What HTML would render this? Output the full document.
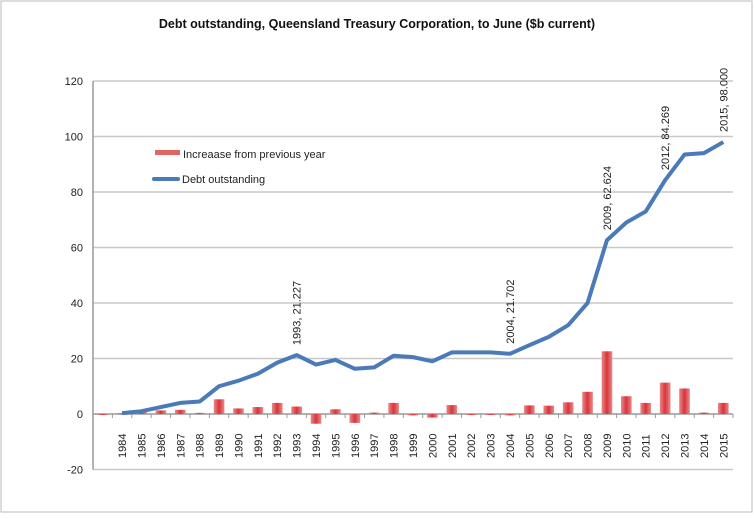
<!DOCTYPE html>
<html><head><meta charset="utf-8"><style>
body{margin:0;background:#fff;font-family:"Liberation Sans",sans-serif}
</style></head><body>
<svg id="chart" width="754" height="514" xmlns="http://www.w3.org/2000/svg" font-family="Liberation Sans, sans-serif">
<defs><linearGradient id="bg" x1="0" x2="1"><stop offset="0" stop-color="#e88a8a"/><stop offset="0.5" stop-color="#d9343a"/><stop offset="1" stop-color="#e88a8a"/></linearGradient></defs>
<rect x="1" y="1" width="751" height="511" fill="#fff" stroke="#bbb"/>
<text x="377" y="28" text-anchor="middle" font-size="12.5" font-weight="bold" fill="#111">Debt outstanding, Queensland Treasury Corporation, to June ($b current)</text>
<g id="grid"></g><g id="bars"></g><g id="line"></g><g id="labels"></g>
<g>
<rect x="155" y="150" width="25" height="5" fill="#e06666"/>
<text x="183" y="158" font-size="11" fill="#222">Increaase from previous year</text>
<rect x="152" y="177" width="28" height="4" rx="2" fill="#4a7ab8"/>
<text x="182" y="183" font-size="11" fill="#222">Debt outstanding</text>
</g>
</svg>
<script>
const years=["","1984","1985","1986","1987","1988","1989","1990","1991","1992","1993","1994","1995","1996","1997","1998","1999","2000","2001","2002","2003","2004","2005","2006","2007","2008","2009","2010","2011","2012","2013","2014","2015"];
const debt=[null,0.3,1,2.5,4,4.5,10,12,14.5,18.5,21.227,17.8,19.5,16.3,16.8,21,20.5,19,22.2,22.2,22.2,21.702,24.8,27.8,32,40,62.624,69,73,84.269,93.5,94,98];
const increase=[0,0.3,0.7,1.3,1.5,0.4,5.3,2,2.5,4,2.7,-3.5,1.7,-3.2,0.5,4,-0.5,-1.3,3.2,0,0,-0.5,3.1,3,4.2,8,22.6,6.4,4,11.3,9.2,0.5,4];
const yTicks=[-20,0,20,40,60,80,100,120];
const annotations=[["1993","1993, 21.227"],["2004","2004, 21.702"],["2009","2009, 62.624"],["2012","2012, 84.269"],["2015","2015, 98.000"]];
const NS="http://www.w3.org/2000/svg";
const x0=93,x1=733,yTop=81,yZero=414;
const slot=(x1-x0)/years.length;
const X=i=>x0+slot*(i+0.5);
const Y=v=>yZero-(v)*(yZero-yTop)/120;
function mk(tag,attrs,parent){const e=document.createElementNS(NS,tag);for(const k in attrs)e.setAttribute(k,attrs[k]);document.getElementById(parent).appendChild(e);return e;}
yTicks.forEach(t=>{
 const l=mk('line',{x1:x0,x2:x1,y1:Y(t),y2:Y(t),stroke:t===0?'#999':'#c8c8c8','stroke-width':1.5},'grid');
 
 
 const tx=mk('text',{x:x0-10,y:Y(t)+4,'text-anchor':'end','font-size':11,fill:'#222'},'grid');
 tx.textContent=t;
 
 
});
mk('line',{x1:x0,x2:x0,y1:yTop,y2:Y(-20),stroke:'#999','stroke-width':1.5},'grid');
years.forEach((y,i)=>{
 mk('line',{x1:x0+slot*(i+1),x2:x0+slot*(i+1),y1:yZero,y2:yZero+4,stroke:'#999'},'grid');
 if(y){const t=mk('text',{transform:`translate(${X(i)+4},${yZero+44}) rotate(-90)`,'font-size':11,fill:'#222'},'labels');
 t.textContent=y;
 
 }
});
increase.forEach((v,i)=>{
 const w=slot*0.55;
 const r=mk('rect',{x:X(i)-w/2,y:Math.min(Y(v),yZero),width:w,height:Math.max(Math.abs(Y(v)-yZero),1),fill:'url(#bg)'},'bars');
 
 
});
let d='';debt.forEach((v,i)=>{if(v!==null)d+=(d?'L':'M')+X(i)+','+Y(v);});
const p=mk('path',{d:d,fill:'none',stroke:'#4a7ab8','stroke-width':4,'stroke-linejoin':'round'},'line');


annotations.forEach(a=>{
 const i=years.indexOf(a[0]);
 const t=mk('text',{transform:`translate(${X(i)+4},${Y(debt[i])-10}) rotate(-90)`,'font-size':11,fill:'#222'},'labels');
 t.textContent=a[1];
 
 
});
</script>
</body></html>
